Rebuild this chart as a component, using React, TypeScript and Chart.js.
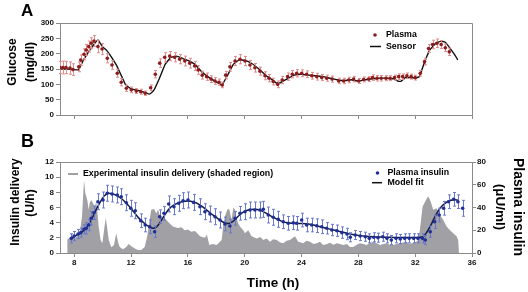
import React, { useEffect, useRef } from 'react';
import { Chart, registerables } from 'chart.js';
Chart.register(...registerables);

// ---------- data ----------
const xTicks = [8, 12, 16, 20, 24, 28, 32, 36];

const glucoseHours = [7.0, 7.21, 7.42, 7.7, 7.91, 8.32, 8.46, 8.69, 8.85, 9.02, 9.2, 9.39, 9.67, 9.96, 10.33, 10.66, 11.03, 11.31, 11.67, 12.02, 12.37, 12.68, 13.0, 13.38, 13.71, 14.02, 14.37, 14.72, 15.07, 15.42, 15.78, 16.13, 16.48, 16.73, 17.01, 17.32, 17.63, 17.91, 18.19, 18.42, 18.66, 18.96, 19.32, 19.67, 20.02, 20.37, 20.72, 21.07, 21.43, 21.71, 22.01, 22.32, 22.64, 23.02, 23.35, 23.66, 24.01, 24.36, 24.72, 25.07, 25.42, 25.77, 26.15, 26.61, 26.96, 27.32, 27.67, 28.02, 28.37, 28.72, 29.0, 29.31, 29.61, 29.94, 30.24, 30.55, 30.84, 31.12, 31.42, 31.72, 32.0, 32.36, 32.66, 32.94, 33.23, 33.53, 33.83, 34.12, 34.4];
const glucosePlasma = [155, 155, 155, 153, 148, 157, 179, 198, 212, 223, 234, 241, 223, 215, 185, 163, 136, 107, 87, 82, 78, 76, 71, 89, 133, 169, 188, 192, 188, 182, 176, 169, 160, 147, 130, 125, 117, 111, 107, 98, 130, 157, 176, 182, 176, 163, 154, 143, 128, 120, 109, 100, 114, 125, 133, 136, 136, 133, 128, 125, 122, 120, 117, 111, 111, 114, 117, 111, 116, 117, 122, 120, 120, 120, 120, 122, 125, 125, 128, 125, 122, 136, 174, 217, 230, 234, 230, 219, 206];
const glucoseErr = [20, 21, 20, 20, 19, 16, 17, 18, 18, 18, 18, 18, 20, 18, 15, 14, 13, 12, 10, 9, 8, 8, 7, 9, 12, 14, 15, 15, 15, 15, 16, 16, 15, 14, 13, 12, 11, 11, 10, 9, 12, 14, 15, 15, 15, 15, 14, 13, 13, 12, 11, 11, 12, 12, 12, 12, 11, 11, 11, 11, 10, 10, 10, 9, 9, 9, 9, 8, 8, 8, 9, 9, 9, 8, 8, 8, 9, 9, 9, 8, 8, 9, 11, 13, 14, 14, 13, 12, 12];

const sensorHours = [7.0, 7.5, 8.0, 8.3, 8.6, 9.0, 9.3, 9.67, 10.0, 10.3, 10.6, 11.0, 11.3, 11.6, 12.0, 12.5, 13.0, 13.3, 13.6, 14.0, 14.4, 14.8, 15.2, 15.6, 16.0, 16.5, 17.0, 17.5, 18.0, 18.4, 18.8, 19.2, 19.6, 20.0, 20.5, 21.0, 21.5, 21.8, 22.2, 22.5, 23.0, 23.5, 24.0, 24.5, 25.0, 25.5, 26.0, 26.5, 27.0, 27.5, 28.0, 28.5, 29.0, 29.5, 30.0, 30.5, 30.8, 31.0, 31.3, 31.7, 32.0, 32.3, 32.6, 33.0, 33.4, 33.8, 34.1, 34.5, 34.8, 35.0];
const sensorValues = [150, 150, 148, 147, 175, 205, 225, 245, 222, 210, 190, 160, 130, 100, 85, 80, 73, 68, 80, 120, 165, 188, 192, 185, 178, 165, 140, 122, 108, 98, 130, 165, 180, 178, 168, 150, 128, 120, 105, 105, 118, 130, 133, 130, 128, 125, 120, 115, 112, 115, 110, 115, 118, 120, 120, 118, 110, 110, 122, 122, 120, 125, 165, 210, 232, 241, 238, 215, 195, 180];

const deliveryHours = [7.5, 7.52, 7.7, 7.9, 8.1, 8.25, 8.39, 8.55, 8.69, 8.78, 8.92, 9.02, 9.09, 9.2, 9.32, 9.44, 9.55, 9.62, 9.72, 9.86, 9.98, 10.1, 10.22, 10.33, 10.43, 10.61, 10.8, 10.96, 11.08, 11.2, 11.43, 11.67, 11.83, 12.02, 12.26, 12.49, 12.72, 12.96, 13.14, 13.31, 13.42, 13.62, 13.78, 13.9, 14.02, 14.25, 14.48, 14.72, 14.95, 15.3, 15.55, 15.78, 16.0, 16.24, 16.5, 16.71, 16.85, 17.2, 17.34, 17.51, 17.75, 18.03, 18.38, 18.49, 18.61, 18.77, 18.91, 19.08, 19.2, 19.32, 19.43, 19.55, 19.67, 19.9, 20.02, 20.25, 20.49, 20.84, 21.1, 21.31, 21.55, 21.78, 22.0, 22.25, 22.5, 22.71, 22.95, 23.19, 23.54, 23.77, 24.12, 24.35, 24.59, 24.85, 25.07, 25.3, 25.53, 25.8, 26.0, 26.25, 26.47, 26.7, 26.94, 27.2, 27.41, 27.64, 27.9, 28.11, 28.35, 28.58, 28.8, 29.05, 29.3, 29.52, 29.75, 29.99, 30.2, 30.46, 30.7, 30.93, 31.15, 31.4, 31.6, 31.75, 32.0, 32.22, 32.33, 32.52, 32.76, 32.92, 33.09, 33.27, 33.51, 33.74, 33.97, 34.21, 34.45, 34.68, 34.91, 35.03, 35.08];
const deliveryValues = [0, 1.8, 2.0, 2.1, 2.0, 2.3, 2.6, 4.8, 9.6, 7.9, 7.0, 5.7, 6.6, 7.0, 6.6, 5.9, 6.8, 5.7, 3.5, 1.7, 1.3, 3.0, 4.6, 3.2, 1.7, 0.75, 1.05, 2.6, 1.5, 0.8, 0.5, 0.8, 1.2, 0.9, 0.6, 0.4, 0.4, 0.8, 2.2, 4.4, 5.7, 5.8, 5.2, 5.7, 5.0, 4.6, 4.4, 3.9, 3.5, 3.3, 3.4, 3.0, 3.1, 2.8, 2.9, 2.5, 2.2, 2.0, 2.4, 1.05, 1.2, 1.05, 1.7, 3.7, 4.8, 5.7, 5.8, 4.4, 6.0, 5.7, 4.6, 3.9, 3.5, 3.0, 2.6, 3.0, 2.2, 1.9, 2.1, 1.7, 1.9, 1.5, 1.8, 1.7, 1.4, 1.3, 1.6, 1.7, 2.2, 1.5, 1.3, 1.6, 1.5, 1.2, 1.3, 1.5, 1.05, 1.2, 1.35, 1.1, 1.3, 1.2, 1.05, 1.2, 0.8, 0.8, 1.1, 1.3, 1.2, 1.05, 1.3, 1.5, 1.3, 1.05, 1.2, 1.3, 1.1, 1.05, 1.2, 1.3, 1.4, 1.5, 1.2, 1.3, 1.4, 1.7, 3.0, 6.1, 7.0, 7.5, 6.8, 5.7, 5.9, 5.0, 4.4, 3.5, 3.0, 2.6, 2.2, 1.7, 0];

const insulinHours = [7.8, 7.99, 8.27, 8.46, 8.69, 8.85, 9.02, 9.2, 9.39, 9.67, 10.03, 10.33, 10.66, 11.03, 11.31, 11.67, 11.98, 12.3, 12.68, 13.0, 13.31, 13.66, 14.02, 14.32, 14.65, 15.02, 15.35, 15.66, 16.01, 16.4, 16.85, 17.2, 17.56, 17.91, 18.26, 18.61, 18.96, 19.32, 19.67, 20.02, 20.37, 20.72, 21.07, 21.31, 21.66, 22.01, 22.36, 22.71, 23.07, 23.42, 23.66, 24.01, 24.36, 24.72, 25.07, 25.42, 25.77, 26.13, 26.49, 26.84, 27.2, 27.43, 27.78, 28.13, 28.49, 28.77, 29.08, 29.38, 29.71, 30.01, 30.32, 30.65, 30.95, 31.26, 31.58, 31.89, 32.19, 32.52, 32.71, 33.06, 33.37, 33.69, 34.0, 34.35, 34.71, 35.01, 35.34];
const insulinValues = [12.9, 14.9, 16.7, 17.9, 20.8, 21.7, 24.6, 30.5, 35.4, 45.1, 46.6, 52.5, 51.9, 51.0, 49.5, 44.2, 39.3, 37.2, 28.4, 24.6, 23.1, 18.7, 31.9, 34.9, 43.1, 40.7, 43.7, 46.0, 46.6, 44.5, 40.7, 36.3, 34.3, 31.9, 29.0, 25.5, 23.7, 30.5, 34.9, 36.3, 37.8, 37.8, 37.8, 38.4, 33.4, 31.4, 29.6, 27.5, 26.1, 26.6, 26.1, 29.0, 24.6, 24.6, 24.0, 23.1, 21.7, 20.2, 19.6, 17.9, 16.7, 13.8, 15.8, 14.9, 14.3, 12.9, 13.8, 13.5, 14.3, 12.9, 11.4, 12.9, 12.3, 12.9, 12.9, 12.9, 12.9, 12.9, 11.4, 18.7, 27.5, 33.4, 39.3, 45.1, 47.2, 45.1, 39.3];
const insulinErr = [4, 4, 4, 4, 4, 5, 5, 6, 6, 7, 7, 7, 7, 7, 7, 7, 7, 7, 6, 6, 6, 5, 6, 6, 7, 7, 7, 7, 7, 7, 7, 7, 7, 7, 7, 6, 6, 6, 6, 7, 7, 7, 7, 7, 7, 7, 7, 6, 6, 6, 6, 6, 6, 6, 6, 6, 5, 5, 5, 5, 5, 4, 4, 4, 4, 4, 4, 4, 4, 4, 4, 4, 4, 4, 4, 4, 4, 4, 4, 5, 6, 6, 6, 6, 6, 6, 7];

const fitHours = [7.8, 8.0, 8.3, 8.6, 8.9, 9.2, 9.5, 9.8, 10.1, 10.4, 10.7, 11.0, 11.4, 11.8, 12.2, 12.6, 13.0, 13.3, 13.55, 13.8, 14.1, 14.4, 14.7, 15.0, 15.4, 15.8, 16.2, 16.6, 17.0, 17.4, 17.8, 18.2, 18.5, 18.8, 19.0, 19.3, 19.6, 19.9, 20.3, 20.7, 21.1, 21.5, 22.0, 22.5, 23.0, 23.5, 24.0, 24.5, 25.0, 25.5, 26.0, 26.5, 27.0, 27.5, 28.0, 28.5, 29.0, 29.5, 30.0, 30.5, 31.0, 31.5, 32.0, 32.5, 32.75, 33.0, 33.3, 33.6, 33.9, 34.2, 34.5, 34.8, 35.0];
const fitValues = [13, 14.5, 16.5, 19, 23, 29, 37, 44, 50, 52.5, 52, 50.5, 47, 42, 36, 30, 25.5, 23, 21.7, 23, 28, 34, 39, 42, 44.5, 45.5, 45.5, 44, 41, 37, 33, 29.5, 27, 26, 26.5, 29, 33, 36, 38, 38.5, 37.5, 35, 31.5, 28.5, 26.5, 26, 26, 25.5, 24, 22.5, 21, 19.5, 18, 16.5, 15.5, 14.8, 14.3, 14, 13.8, 13.7, 13.6, 13.6, 13.6, 14, 17, 22, 29.5, 36.5, 41.5, 44.5, 46.3, 46.8, 46.5];

// ---------- style helpers ----------
const FONT = '"Liberation Sans", Arial, Helvetica, sans-serif';
const AXIS = '#8a8a8a';
const tickFont = { family: FONT, size: 8, weight: 'bold' as const };

const pts = (xs: number[], ys: number[]) => xs.map((x, i) => ({ x, y: ys[i] }));

function txt(ctx: CanvasRenderingContext2D, s: string, x: number, y: number, size: number, rot = 0, align: CanvasTextAlign = 'center') {
  ctx.save();
  ctx.translate(x, y);
  if (rot) ctx.rotate(rot);
  ctx.font = `bold ${size}px ${FONT}`;
  ctx.fillStyle = '#000';
  ctx.textAlign = align;
  ctx.textBaseline = 'middle';
  ctx.fillText(s, 0, 0);
  ctx.restore();
}

const errorBars = {
  id: 'errorBars',
  beforeDatasetDraw(chart: any, args: any) {
    const ds = chart.data.datasets[args.index];
    if (!ds.errors) return;
    const ctx = chart.ctx;
    const ys = chart.scales[ds.yAxisID];
    ctx.save();
    ctx.strokeStyle = ds.errorColor;
    ctx.lineWidth = 1;
    args.meta.data.forEach((p: any, j: number) => {
      const v = ds.data[j].y;
      const e = ds.errors[j];
      const x = Math.round(p.x) + 0.5;
      const y1 = ys.getPixelForValue(v + e);
      const y2 = ys.getPixelForValue(v - e);
      ctx.beginPath();
      ctx.moveTo(x, y1); ctx.lineTo(x, y2);
      ctx.moveTo(x - 1.5, y1); ctx.lineTo(x + 1.5, y1);
      ctx.moveTo(x - 1.5, y2); ctx.lineTo(x + 1.5, y2);
      ctx.stroke();
    });
    ctx.restore();
  },
};

const frame = {
  id: 'frame',
  afterDraw(chart: any) {
    const { ctx, chartArea: a } = chart;
    ctx.save();
    ctx.strokeStyle = AXIS;
    ctx.lineWidth = 1;
    ctx.beginPath();
    ctx.moveTo(Math.round(a.left) + 0.5, Math.round(a.top) + 0.5);
    ctx.lineTo(Math.round(a.right) + 0.5, Math.round(a.top) + 0.5);
    ctx.lineTo(Math.round(a.right) + 0.5, Math.round(a.bottom) + 0.5);
    ctx.stroke();
    ctx.restore();
  },
};

const xScale = (showLabels: boolean, height: number) => ({
  type: 'linear' as const,
  min: 7,
  max: 36,
  afterBuildTicks: (s: any) => { s.ticks = xTicks.map((v) => ({ value: v })); },
  afterFit: (s: any) => { s.height = height; },
  grid: { display: true, drawOnChartArea: false, drawTicks: true, tickLength: 4, color: AXIS },
  border: { display: true, color: AXIS },
  ticks: { display: showLabels, font: tickFont, color: '#111', padding: 1, maxRotation: 0 },
});

const yScale = (min: number, max: number, step: number, width: number, position: 'left' | 'right') => ({
  type: 'linear' as const,
  position,
  min,
  max,
  afterFit: (s: any) => { s.width = width; },
  grid: { display: true, drawOnChartArea: false, drawTicks: true, tickLength: 4, color: AXIS },
  border: { display: true, color: AXIS },
  ticks: { stepSize: step, font: tickFont, color: '#111', padding: 2 },
});

function ChartA() {
  const ref = useRef<HTMLCanvasElement>(null);
  useEffect(() => {
    const deco = {
      id: 'decoA',
      afterDraw(chart: any) {
        const ctx = chart.ctx;
        txt(ctx, 'A', 21, 11, 17, 0, 'left');
        txt(ctx, 'Glucose', 13, 62, 12, -Math.PI / 2);
        txt(ctx, '(mg/dl)', 31, 62, 12, -Math.PI / 2);
        // legend
        ctx.save();
        ctx.fillStyle = '#8e1b1b';
        ctx.beginPath(); ctx.arc(375, 35, 1.8, 0, Math.PI * 2); ctx.fill();
        ctx.strokeStyle = '#111'; ctx.lineWidth = 1.5;
        ctx.beginPath(); ctx.moveTo(370, 46.5); ctx.lineTo(381, 46.5); ctx.stroke();
        ctx.restore();
        txt(ctx, 'Plasma', 386, 35, 8.8, 0, 'left');
        txt(ctx, 'Sensor', 386, 46.5, 8.8, 0, 'left');
      },
    };
    const chart = new Chart(ref.current!, {
      type: 'line',
      data: {
        datasets: [
          {
            label: 'Plasma',
            data: pts(glucoseHours, glucosePlasma),
            showLine: false,
            pointRadius: 1.8,
            pointBackgroundColor: '#8e1b1b',
            pointBorderWidth: 0,
            yAxisID: 'y',
            errors: glucoseErr,
            errorColor: '#e48b8b',
          } as any,
          {
            label: 'Sensor',
            data: pts(sensorHours, sensorValues),
            borderColor: '#111',
            borderWidth: 1.4,
            pointRadius: 0,
            tension: 0.08,
            yAxisID: 'y',
          },
        ],
      },
      options: {
        animation: false,
        responsive: false,
        events: [],
        layout: { padding: { left: 0, right: 56, top: 23, bottom: 0 } },
        plugins: { legend: { display: false }, tooltip: { enabled: false } },
        scales: {
          x: xScale(false, 15),
          y: yScale(0, 300, 50, 60, 'left'),
        },
      } as any,
      plugins: [errorBars, frame, deco],
    });
    return () => chart.destroy();
  }, []);
  return <canvas ref={ref} width={528} height={130} style={{ position: 'absolute', left: 0, top: 0, width: 528, height: 130 }} />;
}

function ChartB() {
  const ref = useRef<HTMLCanvasElement>(null);
  useEffect(() => {
    const deco = {
      id: 'decoB',
      afterDraw(chart: any) {
        const ctx = chart.ctx;
        txt(ctx, 'B', 21, 12, 18, 0, 'left');
        txt(ctx, 'Insulin delivery', 15.5, 72, 12, -Math.PI / 2);
        txt(ctx, '(U/h)', 31, 73, 12, -Math.PI / 2);
        txt(ctx, 'Plasma insulin', 518, 77, 14, Math.PI / 2);
        txt(ctx, '(\u03bcU/ml)', 500, 77, 13.5, Math.PI / 2);
        txt(ctx, 'Time (h)', 273, 153, 13.5);
        ctx.save();
        ctx.strokeStyle = '#a0a0a5'; ctx.lineWidth = 2;
        ctx.beginPath(); ctx.moveTo(68, 44); ctx.lineTo(78, 44); ctx.stroke();
        ctx.fillStyle = '#1f2f95';
        ctx.beginPath(); ctx.arc(377.5, 43, 1.8, 0, Math.PI * 2); ctx.fill();
        ctx.strokeStyle = '#111'; ctx.lineWidth = 1.5;
        ctx.beginPath(); ctx.moveTo(372, 52.7); ctx.lineTo(382, 52.7); ctx.stroke();
        ctx.restore();
        txt(ctx, 'Experimental insulin delivery (shaded region)', 83, 44, 8.8, 0, 'left');
        txt(ctx, 'Plasma insulin', 387.5, 43, 8.8, 0, 'left');
        txt(ctx, 'Model fit', 387.5, 52.7, 8.8, 0, 'left');
      },
    };
    const chart = new Chart(ref.current!, {
      type: 'line',
      data: {
        datasets: [
          {
            label: 'Plasma insulin',
            data: pts(insulinHours, insulinValues),
            showLine: false,
            pointRadius: 1.8,
            pointBackgroundColor: '#1f2f95',
            pointBorderWidth: 0,
            yAxisID: 'y2',
            errors: insulinErr,
            errorColor: '#6a79cf',
          } as any,
          {
            label: 'Model fit',
            data: pts(fitHours, fitValues),
            borderColor: '#141a45',
            borderWidth: 1.5,
            pointRadius: 0,
            tension: 0.35,
            yAxisID: 'y2',
          },
          {
            label: 'Experimental insulin delivery',
            data: pts(deliveryHours, deliveryValues),
            borderWidth: 0,
            borderColor: 'rgba(0,0,0,0)',
            backgroundColor: 'rgb(160,160,165)',
            fill: 'origin',
            pointRadius: 0,
            tension: 0,
            yAxisID: 'y',
          },
        ],
      },
      options: {
        animation: false,
        responsive: false,
        events: [],
        layout: { padding: { left: 0, right: 0, top: 32, bottom: 0 } },
        plugins: { legend: { display: false }, tooltip: { enabled: false } },
        scales: {
          x: xScale(true, 39),
          y: yScale(0, 12, 2, 60, 'left'),
          y2: { ...yScale(0, 80, 20, 56, 'right'), ticks: { stepSize: 20, font: tickFont, color: '#111', padding: 1 } },
        },
      } as any,
      plugins: [errorBars, frame, deco],
    });
    return () => chart.destroy();
  }, []);
  return <canvas ref={ref} width={528} height={162} style={{ position: 'absolute', left: 0, top: 130, width: 528, height: 162 }} />;
}

export default function App() {
  return (
    <div style={{ position: 'absolute', left: 0, top: 0, width: 528, height: 292, background: '#fff' }}>
      <ChartA />
      <ChartB />
    </div>
  );
}
